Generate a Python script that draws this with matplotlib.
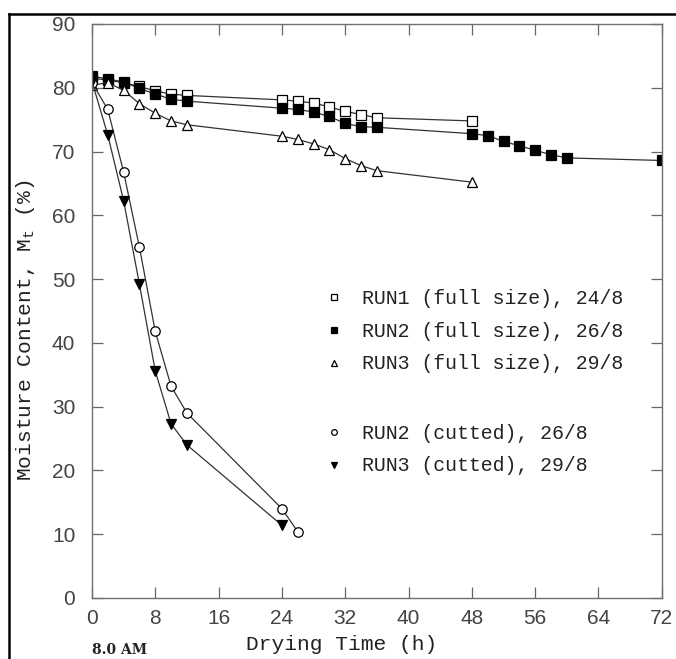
"""Moisture content vs drying time for full-size and cut samples."""

import matplotlib

matplotlib.use("Agg")
import matplotlib.pyplot as plt
from matplotlib.lines import Line2D

# drying time (h) and moisture content (%)
run1_full_t = [0, 2, 4, 6, 8, 10, 12, 24, 26, 28, 30, 32, 34, 36, 48]
run1_full_m = [81.5, 81.2, 80.8, 80.2, 79.5, 79.0, 78.8, 78.1, 77.9, 77.6, 77.0, 76.3, 75.8, 75.3, 74.8]

run2_full_t = [0, 2, 4, 6, 8, 10, 12, 24, 26, 28, 30, 32, 34, 36, 48, 50, 52, 54, 56, 58, 60, 72]
run2_full_m = [81.8, 81.4, 80.9, 79.9, 79.0, 78.2, 77.9, 76.8, 76.6, 76.2, 75.5, 74.4, 73.9, 73.8,
               72.8, 72.5, 71.6, 70.9, 70.2, 69.5, 69.0, 68.6]

run3_full_t = [0, 2, 4, 6, 8, 10, 12, 24, 26, 28, 30, 32, 34, 36, 48]
run3_full_m = [80.4, 80.8, 79.6, 77.5, 76.0, 74.8, 74.2, 72.4, 71.9, 71.2, 70.3, 68.9, 67.8, 67.0, 65.2]

run2_cut_t = [0, 2, 4, 6, 8, 10, 12, 24, 26]
run2_cut_m = [80.8, 76.6, 66.8, 55.0, 41.8, 33.2, 29.0, 14.0, 10.4]

run3_cut_t = [0, 2, 4, 6, 8, 10, 12, 24]
run3_cut_m = [81.0, 72.6, 62.3, 49.2, 35.6, 27.3, 24.0, 11.4]

x_ticks = [0, 8, 16, 24, 32, 40, 48, 56, 64, 72]
y_ticks = [0, 10, 20, 30, 40, 50, 60, 70, 80, 90]

labels = [
    "RUN1 (full size), 24/8",
    "RUN2 (full size), 26/8",
    "RUN3 (full size), 29/8",
    "RUN2 (cutted), 26/8",
    "RUN3 (cutted), 29/8",
]

MONO = "Liberation Mono"
SERIF = "DejaVu Serif"
SANS = "Liberation Sans"
LINE = "#333333"
TEXT = "#222222"

plt.rcParams["mathtext.fontset"] = "custom"
plt.rcParams["mathtext.rm"] = MONO

fig = plt.figure(figsize=(6.76, 6.59), dpi=100)
ax = fig.add_axes([0.136, 0.0926, 0.843, 0.871])

styles = [
    (run1_full_t, run1_full_m, dict(marker="s", mfc="white", ms=6.8)),
    (run2_full_t, run2_full_m, dict(marker="s", mfc="black", ms=7.6)),
    (run3_full_t, run3_full_m, dict(marker="^", mfc="white", ms=7.2)),
    (run2_cut_t, run2_cut_m, dict(marker="o", mfc="white", ms=6.8)),
    (run3_cut_t, run3_cut_m, dict(marker="v", mfc="black", ms=7.8)),
]
handles = []
for (t, m, style), label in zip(styles, labels):
    (h,) = ax.plot(t, m, color=LINE, lw=0.9, mec="black", mew=0.9, label=label, **style)
    handles.append(h)

ax.set_xlim(0, 72)
ax.set_ylim(0, 90)
ax.set_xticks(x_ticks)
ax.set_yticks(y_ticks)
ax.tick_params(direction="in", top=True, right=True, length=8, width=0.9,
               colors="#666666", labelsize=15, labelcolor="#444444")
ax.tick_params(axis="y", pad=12)
ax.tick_params(axis="x", pad=8)
for label in ax.get_xticklabels() + ax.get_yticklabels():
    label.set_family(SANS)
for spine in ax.spines.values():
    spine.set_color("#707070")
    spine.set_linewidth(1.0)

ax.set_ylabel(r"Moisture Content, M$_\mathrm{t}$ (%)", family=MONO, fontsize=15.3, color=TEXT)
ax.yaxis.set_label_coords(-0.096, 0.467)
ax.set_xlabel("Drying Time (h)", family=MONO, fontsize=15.3, color=TEXT)
ax.xaxis.set_label_coords(0.439, -0.064)
ax.text(0, -0.09, "8.0 AM", transform=ax.transAxes, family=SERIF, fontsize=10,
        fontweight="bold", ha="left", va="center", color=TEXT)

legend_style = dict(loc="upper left", frameon=False, numpoints=1, handlelength=0.6,
                    handletextpad=1.1, labelspacing=0.7, markerscale=0.6,
                    prop={"family": MONO, "size": 14.3})
full_legend = ax.legend(handles[:3], labels[:3], bbox_to_anchor=(0.383, 0.570), **legend_style)
ax.add_artist(full_legend)
cut_legend = ax.legend(handles[3:], labels[3:], bbox_to_anchor=(0.383, 0.335), **legend_style)
for legend in (full_legend, cut_legend):
    for line in legend.get_lines():
        line.set_linestyle("none")
    for text in legend.get_texts():
        text.set_color(TEXT)

# scanned page border on the left and top
fig.add_artist(Line2D([0.0133, 0.0133], [0.0, 0.979], transform=fig.transFigure,
                      color="black", lw=1.8))
fig.add_artist(Line2D([0.0133, 1.0], [0.979, 0.979], transform=fig.transFigure,
                      color="black", lw=1.8))

fig.savefig("out.png", dpi=100)
